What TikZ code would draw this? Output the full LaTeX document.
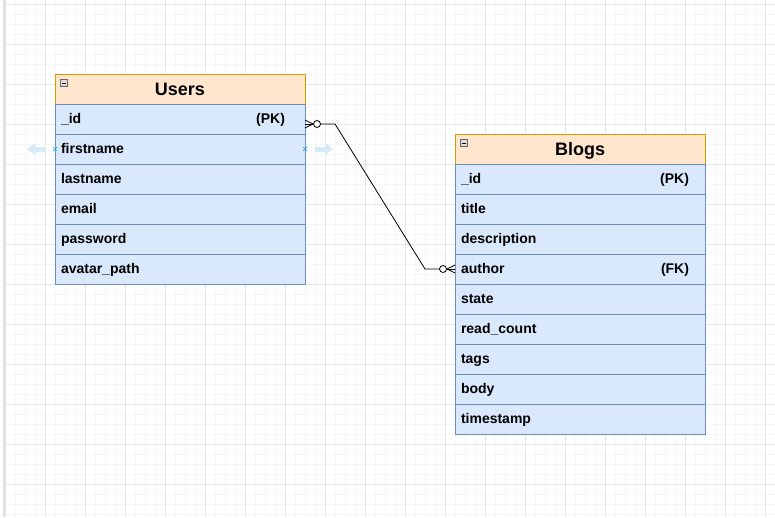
\documentclass[tikz,border=0pt]{standalone}
\usepackage{fontspec}
\setmainfont{Liberation Sans}
\usetikzlibrary{positioning,calc,arrows.meta}

\definecolor{headfill}{HTML}{FFE6CC}
\definecolor{headdraw}{HTML}{D79B00}
\definecolor{rowfill}{HTML}{DAE8FC}
\definecolor{rowdraw}{HTML}{6C8EBF}
\definecolor{majorgrid}{HTML}{E6E6E6}
\definecolor{minorgrid}{HTML}{F6F6F6}
\definecolor{hintblue}{HTML}{D6EBFA}
\definecolor{markblue}{HTML}{29ABE2}

\tikzset{
  tablehead/.style={draw=headdraw, fill=headfill, minimum width=250pt, minimum height=30pt,
    inner sep=0pt, outer sep=0pt, text height=13pt, text depth=0pt,
    font=\fontsize{18}{18}\selectfont\bfseries},
  field/.style={draw=rowdraw, fill=rowfill, minimum width=250pt, minimum height=30pt,
    inner xsep=6pt, inner ysep=0pt, outer sep=0pt, text width=238pt, align=left,
    text height=11pt, text depth=2pt, font=\fontsize{14}{14}\selectfont\bfseries},
  togglebox/.style={draw=gray!80!black, fill=gray!25, minimum size=7pt, inner sep=0pt},
  relation/.style={draw=black, line width=0.8pt},
  hint/.style={draw=hintblue, line width=5pt, -{Triangle[width=11pt,length=8pt]}},
}
\newcommand{\keytag}[2][14pt]{\hfill#2\rule{#1}{0pt}}

\begin{document}
\begin{tikzpicture}[x=1pt,y=-1pt]
  \useasboundingbox (0,0) rectangle (775,517);
  \fill[white] (0,0) rectangle (775,517);

  % grid
  \foreach \gx in {5,15,...,775} \draw[minorgrid, line width=0.6pt] (\gx,0) -- (\gx,517);
  \foreach \gy in {4,14,...,517} \draw[minorgrid, line width=0.6pt] (4,\gy) -- (775,\gy);
  \foreach \gx in {5,45,...,775} \draw[majorgrid, line width=0.8pt] (\gx,0) -- (\gx,517);
  \foreach \gy in {4,44,...,517} \draw[majorgrid, line width=0.8pt] (4,\gy) -- (775,\gy);
  \draw[gray!25, line width=1.2pt] (4,0) -- (4,517);

  % Users
  \node[tablehead] (users) at (180,89) {Users};
  \foreach \f [count=\i] in {{\_id\keytag{(PK)}}, firstname, lastname, email, password, avatar\_path}
    \node[field] (u\i) at (180,{89+30*\i}) {\f};
  \node[togglebox] (utoggle) at ($(users.north west)+(9,9)$) {};
  \draw ($(utoggle.west)+(1.5,0)$) -- ($(utoggle.east)+(-1.5,0)$);

  % Blogs
  \node[tablehead] (blogs) at (580,149) {Blogs};
  \foreach \f [count=\i] in {{\_id\keytag[10pt]{(PK)}}, title, description, {author\keytag[10pt]{(FK)}}, state, read\_count, tags, body, timestamp}
    \node[field] (b\i) at (580,{149+30*\i}) {\f};
  \node[togglebox] (btoggle) at ($(blogs.north west)+(9,9)$) {};
  \draw ($(btoggle.west)+(1.5,0)$) -- ($(btoggle.east)+(-1.5,0)$);

  % relation: zero or many on both ends
  \coordinate (uend) at ($(u1.east)+(0,5)$);
  \coordinate (bend) at (b4.west);
  \draw[relation] ($(uend)+(11,0)$) -- ++(19,0) -- ($(bend)+(-30,0)$) -- ($(bend)+(-15,0)$);
  \draw[relation] (uend) -- ++(8,0);
  \draw[relation] ($(uend)+(0,-4)$) -- ($(uend)+(8,0)$) -- ($(uend)+(0,4)$);
  \draw[relation, fill=white] ($(uend)+(12,0)$) circle (3.5);
  \draw[relation] (bend) -- ++(-8,0);
  \draw[relation] ($(bend)+(0,-4)$) -- ($(bend)+(-8,0)$) -- ($(bend)+(0,4)$);
  \draw[relation, fill=white] ($(bend)+(-12,0)$) circle (3.5);

  % hover hints on firstname
  \coordinate (lhint) at ($(u2.west)+(-10,0)$);
  \coordinate (rhint) at ($(u2.east)+(10,0)$);
  \draw[hint] (lhint) -- ++(-18,0);
  \draw[hint] (rhint) -- ++(18,0);
  \foreach \p in {u2.west, u2.east}
    \draw[markblue, line width=0.7pt] ($(\p)+(-2,-2)$) -- ($(\p)+(2,2)$) ($(\p)+(-2,2)$) -- ($(\p)+(2,-2)$);
\end{tikzpicture}
\end{document}
